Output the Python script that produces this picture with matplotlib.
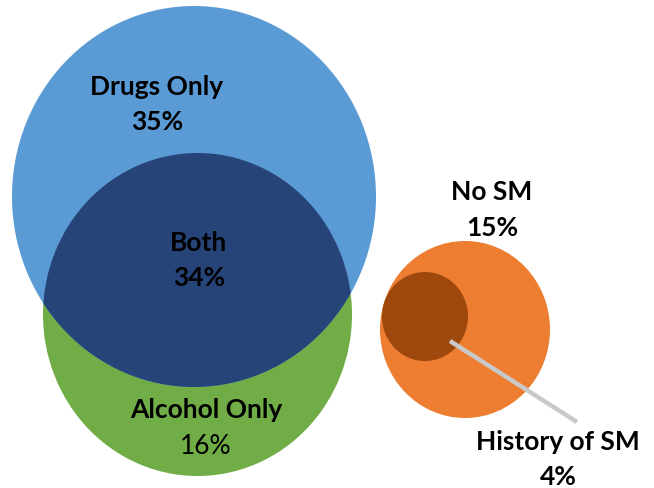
import matplotlib
matplotlib.use("Agg")
import matplotlib.pyplot as plt
from matplotlib.patches import Ellipse

# ---- data ----
groups = ["Drugs Only", "Both", "Alcohol Only", "No SM", "History of SM"]
percents = [35, 34, 16, 15, 4]

# ---- layout (pixel coordinates, y downwards) ----
fig = plt.figure(figsize=(6.54, 4.89), dpi=100)
ax = fig.add_axes([0, 0, 1, 1])
ax.set_xlim(0, 654)
ax.set_ylim(489, 0)
ax.axis("off")

blue, navy, green = "#5B9BD5", "#264478", "#70AD47"
orange, brown = "#ED7D31", "#9E480E"

# drugs circle (blue) and alcohol circle (green) with overlap (navy)
drug = dict(xy=(194, 197.5), width=364, height=381)
alc = dict(xy=(197.5, 315.5), width=309, height=323)
ax.add_patch(Ellipse(**alc, facecolor=green, edgecolor="none", zorder=1))
ax.add_patch(Ellipse(**drug, facecolor=blue, edgecolor="none", zorder=2))
clip = Ellipse(**drug, transform=ax.transData)
both = Ellipse(**alc, facecolor=navy, edgecolor="none", zorder=3)
ax.add_patch(both)
both.set_clip_path(clip)

# SM circles
ax.add_patch(Ellipse((465, 330.5), 170, 177, facecolor=orange, edgecolor="none", zorder=1))
ax.add_patch(Ellipse((425, 317.5), 86, 89, facecolor=brown, edgecolor="none", zorder=2))
ax.plot([450, 577], [342, 423], color="#C9C9C9", lw=3.2, solid_capstyle="butt", zorder=3)

font = ["Lato", "DejaVu Sans"]
fs = 19
tcol = "#000000"
label_pos = [(157, 87, 122), (199, 243, 278), (206, 410, 447), (492, 192, 228), (558, 442, 477)]
pct_weight = ["bold", "bold", "normal", "bold", "bold"]
for g, p, (x, y1, y2), w in zip(groups, percents, label_pos, pct_weight):
    ax.text(x, y1, g, ha="center", va="center", fontsize=fs, fontweight="bold",
            family=font, color=tcol, zorder=5)
    ax.text(x, y2, f"{p}%", ha="center", va="center", fontsize=fs, fontweight=w,
            family=font, color=tcol, zorder=5)

fig.savefig("out.png", dpi=100)
